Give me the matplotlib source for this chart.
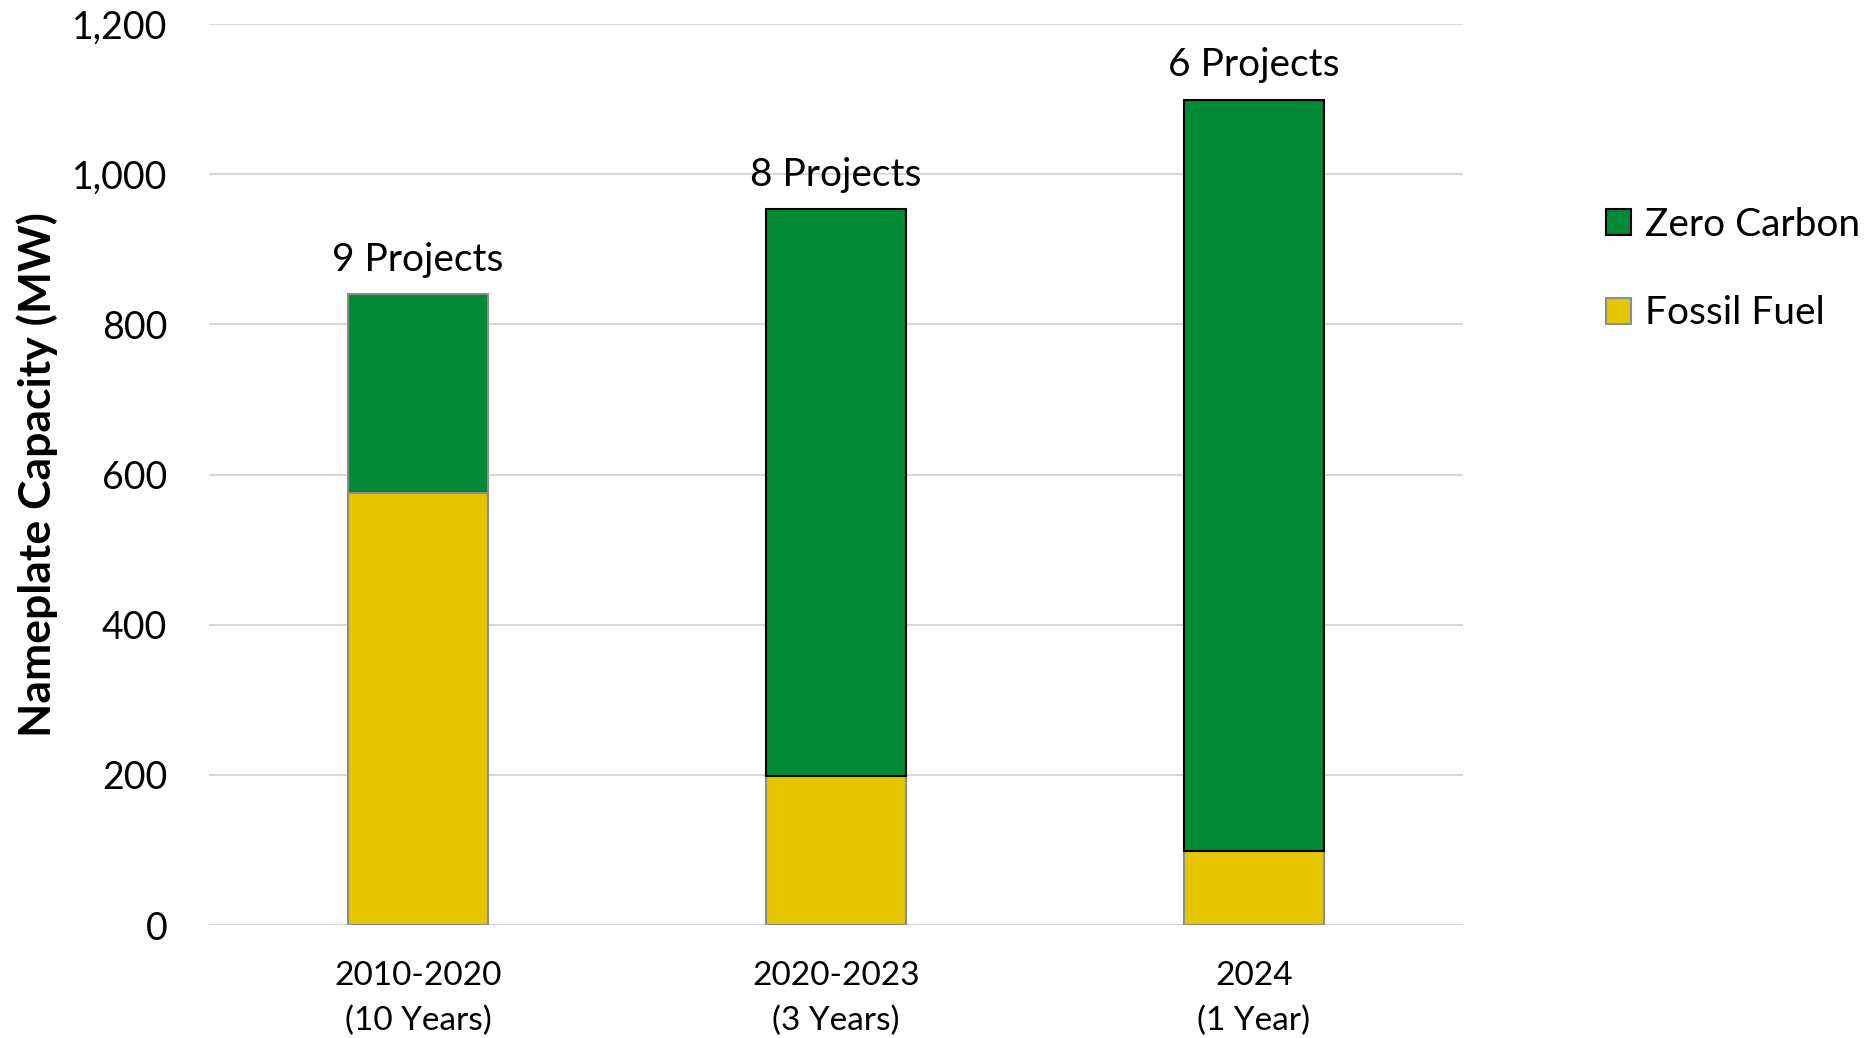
import numpy as np
import matplotlib.pyplot as plt

plt.rcParams['font.family'] = ['Lato', 'DejaVu Sans']

# Data
categories = ['2010-2020\n(10 Years)', '2020-2023\n(3 Years)', '2024\n(1 Year)']
fossil = [575, 198, 98]
zero_carbon = [265, 755, 1001]
projects = ['9 Projects', '8 Projects', '6 Projects']

green = '#008A36'
yellow = '#E5C700'

fig = plt.figure(figsize=(18.65, 10.38), dpi=100)
ax = fig.add_axes([209/1865, 1 - 925/1038, 1254/1865, (925-24)/1038])

x = np.arange(len(categories))
w = 0.333
totals = np.array(fossil) + np.array(zero_carbon)

ax.bar(x, fossil, w, color=yellow, edgecolor='#8c8c8c', linewidth=1.5, zorder=3)
green_edges = ['#8c8c8c', 'black', 'black']
ax.bar(x, zero_carbon, w, bottom=fossil, color=green, edgecolor=green_edges,
       linewidth=1.5, zorder=3)

for xi, t, lab in zip(x, totals, projects):
    ax.annotate(lab, (xi, t), xytext=(0, 12), textcoords='offset points',
                ha='center', va='bottom', fontsize=28)

ax.set_xlim(-0.5, 2.5)
ax.set_ylim(0, 1200)
ax.set_yticks(np.arange(0, 1201, 200))
ax.set_yticklabels([f'{v:,}' for v in range(0, 1201, 200)])
ax.set_xticks(x)
ax.set_xticklabels(categories, linespacing=1.6)
ax.tick_params(axis='y', length=0, labelsize=27, pad=30)
ax.tick_params(axis='x', length=0, labelsize=24, pad=26)
ax.grid(axis='y', color='#d9d9d9', linewidth=1.5, zorder=0)
for s in ax.spines.values():
    s.set_visible(False)

ax.set_ylabel('Nameplate Capacity (MW)', fontsize=32, fontweight='bold', labelpad=10)

h_zero = plt.Rectangle((0, 0), 1, 1, facecolor=green, edgecolor='black', linewidth=1.5)
h_fossil = plt.Rectangle((0, 0), 1, 1, facecolor=yellow, edgecolor='#8c8c8c', linewidth=1.5)
fig.legend([h_zero, h_fossil], ['Zero Carbon', 'Fossil Fuel'], loc='upper left',
           bbox_to_anchor=(1598/1865, 1 - 199/1038), frameon=False, fontsize=28,
           handlelength=0.65, handleheight=0.65, handletextpad=0.35, labelspacing=1.35,
           borderaxespad=0, borderpad=0.2)

fig.savefig('out.png', dpi=100)
